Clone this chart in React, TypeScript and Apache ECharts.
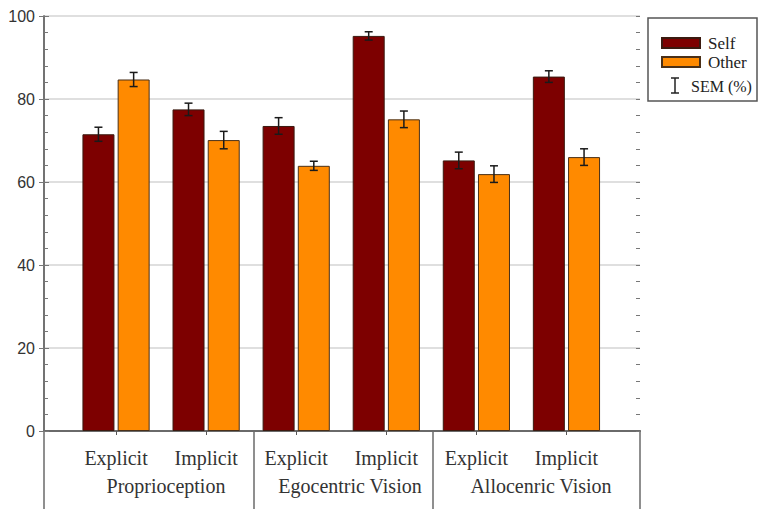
import React, { useEffect, useRef } from "react";
import * as echarts from "echarts";

// Task conditions on the x axis, grouped by modality
const categories = ["Explicit", "Implicit", "Explicit", "Implicit", "Explicit", "Implicit"];
const groups = ["Proprioception", "Egocentric Vision", "Allocenric Vision"];

// Mean scores (%) and standard errors
const selfValues = [71.5, 77.5, 73.5, 95.2, 65.2, 85.4];
const otherValues = [84.7, 70.1, 63.9, 75.1, 61.9, 66.0];
const selfSem = [1.7, 1.5, 2.0, 1.0, 2.0, 1.4];
const otherSem = [1.7, 2.1, 1.1, 2.0, 2.0, 2.0];

const yTicks = [0, 20, 40, 60, 80, 100];

const SERIF = '"Liberation Serif", "Times New Roman", serif';
const SANS = '"Liberation Sans", Arial, sans-serif';
const SELF_COLOR = "#7d0000";
const OTHER_COLOR = "#ff8a00";
const FRAME = "#6a6a6a";

// small inward ticks every 4 units on a frame side
const fineTickAxis = (position: "left" | "right") => ({
  gridIndex: 0, type: "value", min: 0, max: 100, interval: 4, position,
  axisLine: { show: false },
  axisTick: { show: true, inside: true, length: 4, lineStyle: { color: "#777" } },
  axisLabel: { show: false },
  splitLine: { show: false },
});

export default function App() {
  const ref = useRef<HTMLDivElement>(null);

  useEffect(() => {
    if (!ref.current) return;
    const chart = echarts.init(ref.current, null, { renderer: "svg" });

    const barWidth = 32;
    const halfStep = barWidth / 2 + 1.6;

    const errData: number[][] = [];
    selfValues.forEach((v, i) => errData.push([i, v, selfSem[i], -1]));
    otherValues.forEach((v, i) => errData.push([i, v, otherSem[i], 1]));

    const option: any = {
      animation: false,
      backgroundColor: "#ffffff",
      grid: [
        { left: 44, right: 119, top: 16, bottom: 78 },
        { left: 71, right: 147.5, top: 16, bottom: 78 },
      ],
      xAxis: [
        {
          gridIndex: 0, type: "value", position: "bottom", min: 0, max: 1,
          axisLine: { show: true, lineStyle: { color: FRAME, width: 1.5 } },
          axisTick: { show: false }, axisLabel: { show: false }, splitLine: { show: false },
        },
        {
          gridIndex: 0, type: "value", position: "top", min: 0, max: 1,
          axisLine: { show: true, lineStyle: { color: FRAME, width: 2 } },
          axisTick: { show: false }, axisLabel: { show: false }, splitLine: { show: false },
        },
        {
          gridIndex: 1, type: "category", data: categories, position: "bottom",
          axisLine: { show: false },
          axisTick: { show: true, alignWithLabel: true, length: 4, lineStyle: { color: "#555", width: 1 } },
          axisLabel: { margin: 17, fontFamily: SERIF, fontSize: 20, color: "#333" },
          splitLine: { show: false },
        },
      ],
      yAxis: [
        {
          gridIndex: 0, type: "value", min: yTicks[0], max: yTicks[yTicks.length - 1], interval: 20,
          position: "left",
          axisLine: { show: true, lineStyle: { color: FRAME, width: 1.5 } },
          axisTick: { show: true, inside: true, length: 5, lineStyle: { color: "#777" } },
          axisLabel: { margin: 9, fontFamily: SANS, fontSize: 16, color: "#333" },
          splitLine: { show: true, lineStyle: { color: "#d4d4d4", width: 1.5 } },
        },
        {
          gridIndex: 0, type: "value", min: 0, max: 100, interval: 20, position: "right",
          axisLine: { show: true, lineStyle: { color: FRAME, width: 1.5 } },
          axisTick: { show: true, inside: true, length: 5, lineStyle: { color: "#777" } },
          axisLabel: { show: false },
          splitLine: { show: false },
        },
        {
          gridIndex: 1, type: "value", min: 0, max: 100, show: false,
          splitLine: { show: false },
        },
        fineTickAxis("left"),
        fineTickAxis("right"),
      ],
      legend: {
        orient: "vertical",
        left: 661,
        top: 34,
        padding: 0,
        itemWidth: 38,
        itemHeight: 10,
        itemGap: 1,
        icon: "rect",
        data: ["Self", "Other"],
        textStyle: { fontFamily: SERIF, fontSize: 17, color: "#222", lineHeight: 18, padding: [0, 0, 0, 3] },
      },
      series: [
        {
          name: "Self", type: "bar", xAxisIndex: 2, yAxisIndex: 2,
          data: selfValues, barWidth, barGap: "10%",
          itemStyle: { color: SELF_COLOR, borderColor: "#3a1a10", borderWidth: 1 },
        },
        {
          name: "Other", type: "bar", xAxisIndex: 2, yAxisIndex: 2,
          data: otherValues, barWidth, barGap: "10%",
          itemStyle: { color: OTHER_COLOR, borderColor: "#4a3018", borderWidth: 1 },
        },
        {
          name: "SEM", type: "custom", xAxisIndex: 2, yAxisIndex: 2,
          data: errData, z: 10,
          encode: { x: 0, y: 1 },
          renderItem: (params: any, api: any) => {
            const idx = api.value(0);
            const v = api.value(1);
            const sem = api.value(2);
            const side = api.value(3);
            const top = api.coord([idx, v + sem]);
            const bot = api.coord([idx, v - sem]);
            const x = top[0] + side * halfStep;
            const cap = 4;
            const style = { stroke: "#1a1a1a", lineWidth: 1.5 };
            return {
              type: "group",
              children: [
                { type: "line", shape: { x1: x, y1: top[1], x2: x, y2: bot[1] }, style },
                { type: "line", shape: { x1: x - cap, y1: top[1], x2: x + cap, y2: top[1] }, style },
                { type: "line", shape: { x1: x - cap, y1: bot[1], x2: x + cap, y2: bot[1] }, style },
              ],
            };
          },
        },
      ],
      graphic: [
        // frame lines continuing below the plot and group dividers
        { type: "line", shape: { x1: 44, y1: 431, x2: 44, y2: 509 }, style: { stroke: FRAME, lineWidth: 1.5 } },
        { type: "line", shape: { x1: 254, y1: 431, x2: 254, y2: 509 }, style: { stroke: FRAME, lineWidth: 1.5 } },
        { type: "line", shape: { x1: 433, y1: 431, x2: 433, y2: 509 }, style: { stroke: FRAME, lineWidth: 1.5 } },
        { type: "line", shape: { x1: 640, y1: 431, x2: 640, y2: 509 }, style: { stroke: FRAME, lineWidth: 1.5 } },
        // group names
        { type: "text", x: 166, y: 486, style: { text: groups[0], font: `20px ${SERIF}`, fill: "#333", textAlign: "center", textVerticalAlign: "middle" } },
        { type: "text", x: 350, y: 486, style: { text: groups[1], font: `20px ${SERIF}`, fill: "#333", textAlign: "center", textVerticalAlign: "middle" } },
        { type: "text", x: 541, y: 486, style: { text: groups[2], font: `20px ${SERIF}`, fill: "#333", textAlign: "center", textVerticalAlign: "middle" } },
        // legend frame and error-bar key
        { type: "rect", shape: { x: 648, y: 18, width: 109, height: 83 }, style: { fill: "none", stroke: "#555", lineWidth: 1.5 } },
        { type: "line", shape: { x1: 675, y1: 78, x2: 675, y2: 93 }, style: { stroke: "#222", lineWidth: 1.5 } },
        { type: "line", shape: { x1: 671, y1: 78, x2: 679, y2: 78 }, style: { stroke: "#222", lineWidth: 1.5 } },
        { type: "line", shape: { x1: 671, y1: 93, x2: 679, y2: 93 }, style: { stroke: "#222", lineWidth: 1.5 } },
        { type: "text", x: 691, y: 86, style: { text: "SEM (%)", font: `16px ${SERIF}`, fill: "#222", textVerticalAlign: "middle" } },
      ],
    };

    chart.setOption(option);
    return () => chart.dispose();
  }, []);

  return (
    <div
      ref={ref}
      style={{ position: "fixed", left: 0, top: 0, width: 759, height: 509, background: "#fff" }}
    />
  );
}
